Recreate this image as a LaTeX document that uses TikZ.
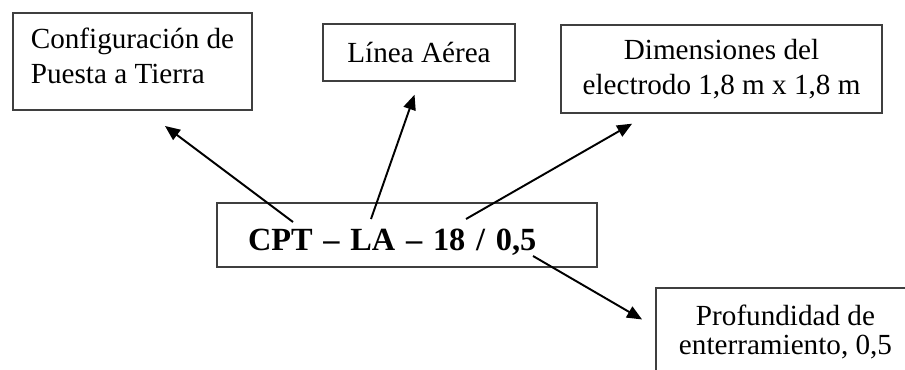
\documentclass[tikz,border=0pt]{standalone}
\usepackage{fontspec}
\setmainfont{Liberation Serif}
\usepackage{tikz}
\usetikzlibrary{arrows.meta, positioning}
\definecolor{BoxGray}{HTML}{3F3F3F}
\tikzset{
  % Box styles
  labelbox/.style={rectangle, draw=BoxGray, line width=1.1pt, fill=white, inner sep=0pt, font=\fontsize{16.6}{20}\selectfont, align=center},
  codebox/.style={rectangle, draw=BoxGray, line width=1.1pt, fill=white, inner ysep=0pt, font=\fontsize{18.4}{23}\selectfont\bfseries, align=left},
  % Arrow styles
  arrow/.style={-{Triangle[length=0.3cm, width=0.25cm]}, line width=1.1pt, black}
}

\begin{document}
\begin{tikzpicture}
  \clip (0,0) rectangle (18.1,-7.38);

  % Meaning boxes
  \node[labelbox, align=left, text depth=0.24cm, minimum width=4.78cm, minimum height=1.94cm] (cfg) at (2.65,-1.23) {
    Configuración de\\
    Puesta a Tierra
  };
  \node[labelbox, minimum width=3.84cm, minimum height=1.14cm] (la) at (8.38,-1.05) {L\'inea A\'erea};
  \node[labelbox, minimum width=6.42cm, minimum height=1.76cm] (dim) at (14.43,-1.38) {
    Dimensiones del\\
    electrodo 1,8 m x 1,8 m
  };
  \node[labelbox, font=\fontsize{16.6}{16.5}\selectfont, minimum width=5.18cm, minimum height=1.76cm] (prof) at (15.71,-6.64) {
    Profundidad de\\
    enterramiento, 0,5
  };

  % Code
  \node[codebox, inner xsep=0.62cm, text width=6.36cm, text height=0.6cm, text depth=0pt, minimum height=1.28cm] (cpt) at (8.14,-4.70) {CPT -- LA -- 18 / 0,5};

  % Arrows
  \coordinate (p1) at (5.86,-4.44);
  \coordinate (p2) at (7.42,-4.38);
  \coordinate (p3) at (9.32,-4.38);
  \coordinate (p4) at (10.66,-5.12);
  \draw[arrow, shorten >=0.5cm] (p1) -- ([xshift=0.25cm]cfg.south);
  \draw[arrow, shorten >=0.27cm] (p2) -- (la.south);
  \draw[arrow, shorten >=0.39cm] (p3) -- ([xshift=-1.45cm]dim.south);
  \draw[arrow, shorten >=0.3cm] (p4) -- ([yshift=0.1cm]prof.west);
\end{tikzpicture}
\end{document}
